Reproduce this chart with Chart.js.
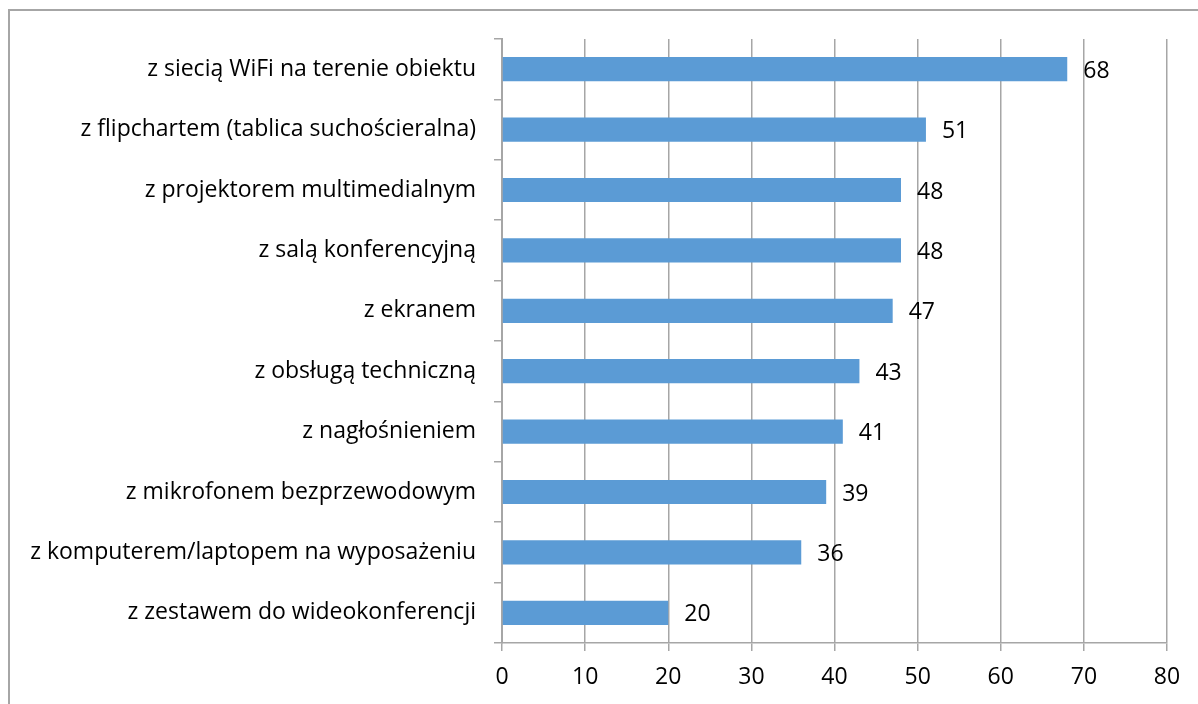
<!DOCTYPE html>
<html>
<head>
<meta charset="utf-8">
<script src="https://cdn.jsdelivr.net/npm/chart.js@4"></script>
<style>
    html, body { margin: 0; padding: 0; background: #fff; }
    #wrap { position: relative; width: 1198px; height: 704px; overflow: hidden; }
    #frame { position: absolute; left: 8px; top: 9px; width: 1200px; height: 710px; border: 2px solid #a6a6a6; box-sizing: border-box; }
    #chart { position: absolute; left: 0; top: 0; }
</style>
</head>
<body>
<div id="wrap">
    <div id="frame"></div>
    <canvas id="chart" width="1198" height="704"></canvas>
</div>
<script>
const categories = [
    'z siecią WiFi na terenie obiektu',
    'z flipchartem (tablica suchościeralna)',
    'z projektorem multimedialnym',
    'z salą konferencyjną',
    'z ekranem',
    'z obsługą techniczną',
    'z nagłośnieniem',
    'z mikrofonem bezprzewodowym',
    'z komputerem/laptopem na wyposażeniu',
    'z zestawem do wideokonferencji'
];
const counts = [68, 51, 48, 48, 47, 43, 41, 39, 36, 20];
const xTicks = [0, 10, 20, 30, 40, 50, 60, 70, 80];

const FONT = 'Open Sans';
const FONT_SIZE = 23;
const lineGray = '#a6a6a6';

// value labels to the right of each bar
const barValues = {
    id: 'barValues',
    afterDatasetsDraw(chart) {
        const ctx = chart.ctx;
        const meta = chart.getDatasetMeta(0);
        ctx.save();
        ctx.font = FONT_SIZE + 'px "' + FONT + '"';
        ctx.fillStyle = '#000';
        ctx.textAlign = 'left';
        ctx.textBaseline = 'middle';
        meta.data.forEach((bar, i) => {
            ctx.fillText(String(counts[i]), bar.x + 16, bar.y + 2);
        });
        ctx.restore();
    }
};

new Chart(document.getElementById('chart'), {
    type: 'bar',
    data: {
        labels: categories,
        datasets: [{
            data: counts,
            backgroundColor: '#5b9bd5',
            borderWidth: 0,
            barPercentage: 0.4,
            categoryPercentage: 1
        }]
    },
    options: {
        indexAxis: 'y',
        responsive: false,
        animation: false,
        layout: { padding: { top: 39, right: 31, bottom: 0, left: 0 } },
        plugins: { legend: { display: false }, tooltip: { enabled: false } },
        scales: {
            x: {
                min: 0,
                max: 80,
                afterBuildTicks: scale => { scale.ticks = xTicks.map(v => ({ value: v })); },
                afterFit: scale => { scale.height = 61; },
                grid: { color: lineGray, lineWidth: 1.5, tickLength: 8 },
                border: { color: lineGray, width: 1.5 },
                ticks: { color: '#000', padding: 13, font: { family: FONT, size: FONT_SIZE } }
            },
            y: {
                afterFit: scale => { scale.width = 502; },
                grid: { offset: true, drawOnChartArea: false, color: lineGray, lineWidth: 1.5, tickLength: 8 },
                border: { color: lineGray, width: 2 },
                ticks: { color: '#000', padding: 18, font: { family: FONT, size: FONT_SIZE } }
            }
        }
    },
    plugins: [barValues]
});
</script>
</body>
</html>
